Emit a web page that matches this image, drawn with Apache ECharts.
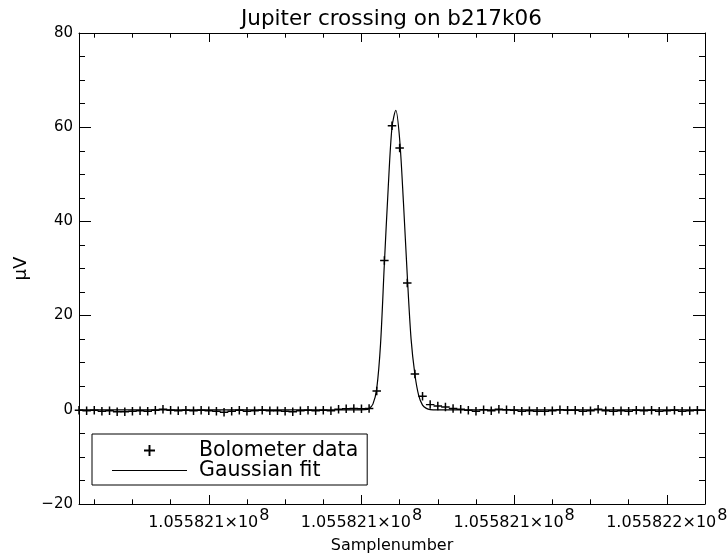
<!DOCTYPE html>
<html>
<head>
<meta charset="utf-8">
<script src="https://cdn.jsdelivr.net/npm/echarts@6/dist/echarts.min.js"></script>
<style>
html,body{margin:0;padding:0;background:#fff;}
#chart{width:728px;height:556px;}
</style>
</head>
<body>
<div id="chart"></div>
<script>
// ---- data ----
const titleText = 'Jupiter crossing on b217k06';
const xName = 'Samplenumber';
const yName = 'μV';
const seriesNames = ['Bolometer data', 'Gaussian fit'];

const sampleNumbers = [
  105582083,105582084,105582085,105582086,105582087,105582088,105582089,105582090,105582091,105582092,
  105582093,105582094,105582095,105582096,105582097,105582098,105582099,105582100,105582101,105582102,
  105582103,105582104,105582105,105582106,105582107,105582108,105582109,105582110,105582111,105582112,
  105582113,105582114,105582115,105582116,105582117,105582118,105582119,105582120,105582121,105582122,
  105582123,105582124,105582125,105582126,105582127,105582128,105582129,105582130,105582131,105582132,
  105582133,105582134,105582135,105582136,105582137,105582138,105582139,105582140,105582141,105582142,
  105582143,105582144,105582145,105582146,105582147,105582148,105582149,105582150,105582151,105582152,
  105582153,105582154,105582155,105582156,105582157,105582158,105582159,105582160,105582161,105582162,
  105582163,105582164
];
const bolometerValues = [
  -0.1,-0.2,-0.1,-0.3,-0.2,-0.4,-0.4,-0.3,-0.2,-0.3,
  -0.1, 0.1,-0.1,-0.2,-0.1,-0.2,-0.1,-0.2,-0.3,-0.5,
  -0.3,-0.1,-0.3,-0.2,-0.1,-0.2,-0.2,-0.3,-0.4,-0.2,
  -0.1,-0.2,-0.1,-0.2, 0.1, 0.2, 0.3, 0.2, 0.3, 4.0,
  31.7,60.3,55.6,26.9, 7.6, 2.9, 1.1, 0.8, 0.6, 0.3,
   0.1,-0.1,-0.3, 0.0,-0.2, 0.1, 0.0,-0.1,-0.3,-0.2,
  -0.3,-0.3,-0.2, 0.0,-0.1,-0.1,-0.3,-0.2, 0.1,-0.2,
  -0.3,-0.2,-0.3,-0.1,-0.2,-0.1,-0.3,-0.2,-0.1,-0.3,
  -0.2,-0.1
];
const fitSamples = [
  105582083,105582119,105582120.5,105582121,105582121.5,105582122,105582122.5,105582123,105582123.5,
  105582124,105582124.5,105582125,105582125.5,105582126,105582126.5,105582127,105582127.5,105582128,
  105582128.5,105582129,105582130,105582165
];
const fitValues = [
  0.0,0.0,0.05,0.3,1.2,4.5,14,31,47,
  60,63.6,57.5,44,28.5,15,7.5,3.0,1.0,
  0.3,0.05,0.0,0.0
];
const xRange = [105582083, 105582165];
const xMajorTicks = [105582100, 105582120, 105582140, 105582160];
const xTickLabels = ['1.055821', '1.055821', '1.055821', '1.055822'];
const xTickExponent = '8';
const xMinorTicks = [
  105582085,105582090,105582095,105582105,105582110,105582115,105582125,105582130,
  105582135,105582145,105582150,105582155,105582165
];
const yRange = [-20, 80];
const yStep = 20;

// ---- chart ----
const FONT = 'DejaVu Sans';
const chart = echarts.init(document.getElementById('chart'), null, {renderer: 'canvas'});

const bolometerData = sampleNumbers.map((s, i) => [s, bolometerValues[i]]);
const fitData = fitSamples.map((s, i) => [s, fitValues[i]]);

const PLUS = 'path://M0,8.25H20V11.75H0Z M8.25,0H11.75V20H8.25Z';
const LINE_ICON = 'path://M0,0H100V1.6H0Z';

function xAxisBase(extra) {
  return Object.assign({
    type: 'value', min: xRange[0], max: xRange[1], gridIndex: 0,
    splitLine: {show: false},
    axisLine: {show: false, onZero: false},
    axisTick: {show: false},
    axisLabel: {show: false}
  }, extra);
}

const option = {
  backgroundColor: '#fff',
  animation: false,
  title: {
    text: titleText, left: 236, top: 3,
    textStyle: {fontFamily: FONT, fontSize: 21.5, fontWeight: 'normal', color: '#000'}
  },
  grid: {left: 79, right: 23, top: 33, bottom: 52, containLabel: false, outerBoundsMode: 'none'},
  legend: {
    orient: 'vertical', left: 92, top: 434,
    itemWidth: 75, itemHeight: 11, itemGap: -1,
    padding: [6, 9, 4, 20],
    borderColor: '#000', borderWidth: 1, borderRadius: 0,
    selectedMode: false,
    textStyle: {fontFamily: FONT, fontSize: 20.5, color: '#000', padding: [0, 0, 0, 7]},
    data: [
      {name: seriesNames[0]},
      {name: seriesNames[1], icon: LINE_ICON}
    ]
  },
  xAxis: [
    xAxisBase({
      position: 'bottom',
      name: xName, nameLocation: 'middle', nameGap: 34,
      nameTextStyle: {fontFamily: FONT, fontSize: 16, color: '#000'},
      axisLine: {show: true, onZero: false, lineStyle: {color: '#000', width: 1}},
      axisTick: {show: true, inside: true, length: 9, customValues: xMajorTicks, lineStyle: {color: '#000', width: 1}},
      axisLabel: {
        show: true, customValues: xMajorTicks, margin: 11,
        formatter: function (v) {
          const i = xMajorTicks.indexOf(v);
          return '{m|' + xTickLabels[i] + '×10}{e|' + xTickExponent + '}';
        },
        rich: {
          m: {fontFamily: FONT, fontSize: 16, color: '#000', lineHeight: 16, verticalAlign: 'bottom'},
          e: {fontFamily: FONT, fontSize: 16, color: '#000', lineHeight: 16, verticalAlign: 'bottom', padding: [0, 0, 7, 1]}
        }
      }
    }),
    xAxisBase({
      position: 'bottom',
      axisTick: {show: true, inside: true, length: 4.7, customValues: xMinorTicks, lineStyle: {color: '#000', width: 1}}
    }),
    xAxisBase({
      position: 'top',
      axisLine: {show: true, onZero: false, lineStyle: {color: '#000', width: 1}},
      axisTick: {show: true, inside: true, length: 9, customValues: xMajorTicks, lineStyle: {color: '#000', width: 1}}
    }),
    xAxisBase({
      position: 'top',
      axisTick: {show: true, inside: true, length: 4.7, customValues: xMinorTicks, lineStyle: {color: '#000', width: 1}}
    })
  ],
  yAxis: [
    {
      type: 'value', position: 'left', min: yRange[0], max: yRange[1], interval: yStep,
      name: yName, nameLocation: 'middle', nameGap: 47, nameRotate: 90,
      nameTextStyle: {fontFamily: FONT, fontSize: 18, color: '#000'},
      splitLine: {show: false},
      axisLine: {show: true, onZero: false, lineStyle: {color: '#000', width: 1}},
      axisTick: {show: true, inside: true, length: 12, lineStyle: {color: '#000', width: 1}},
      minorTick: {show: true, splitNumber: 4, length: 6, lineStyle: {color: '#000', width: 1}},
      axisLabel: {
        show: true, margin: 6, fontFamily: FONT, fontSize: 15, color: '#000',
        formatter: v => String(v).replace('-', '\u2212')
      }
    },
    {
      type: 'value', position: 'right', min: yRange[0], max: yRange[1], interval: yStep,
      splitLine: {show: false},
      axisLine: {show: true, onZero: false, lineStyle: {color: '#000', width: 1}},
      axisTick: {show: true, inside: true, length: 12, lineStyle: {color: '#000', width: 1}},
      minorTick: {show: true, splitNumber: 4, length: 6, lineStyle: {color: '#000', width: 1}},
      axisLabel: {show: false}
    }
  ],
  series: [
    {
      name: seriesNames[0], type: 'scatter', xAxisIndex: 0, yAxisIndex: 0,
      data: bolometerData, symbol: PLUS, symbolSize: 8.5,
      itemStyle: {color: '#000', opacity: 1},
      clip: false, z: 3
    },
    {
      name: seriesNames[1], type: 'line', xAxisIndex: 0, yAxisIndex: 0,
      data: fitData, symbol: 'none', showSymbol: false, smooth: 0.3,
      lineStyle: {color: '#000', width: 1.2},
      itemStyle: {color: '#000'},
      z: 2
    }
  ]
};
chart.setOption(option);
</script>
</body>
</html>
